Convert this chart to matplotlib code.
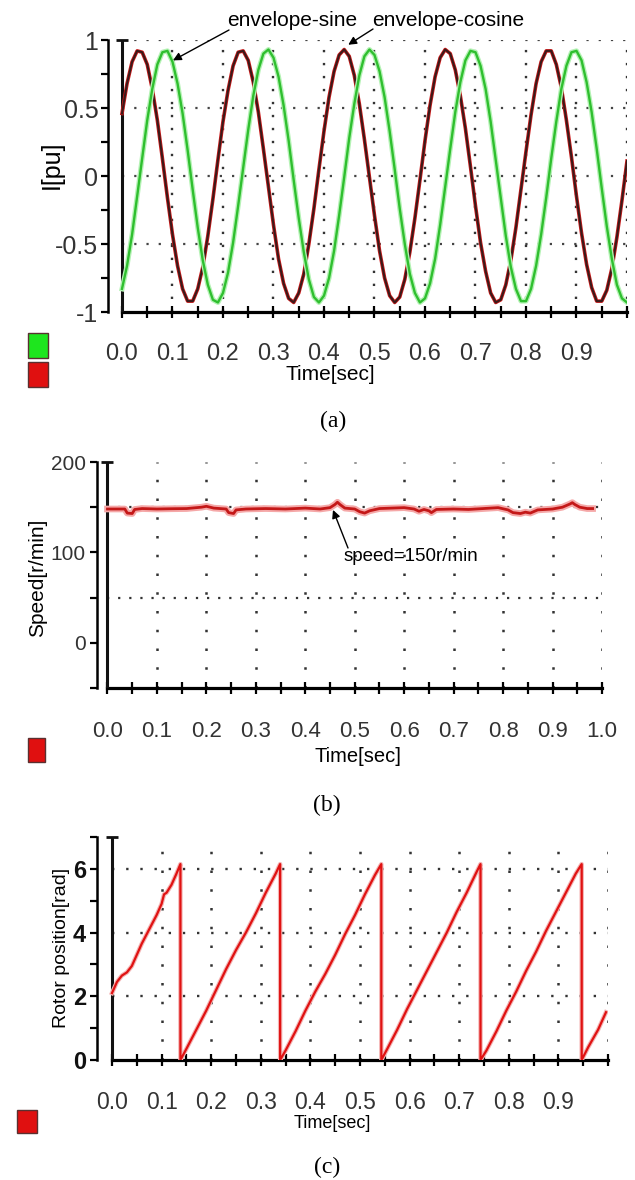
import matplotlib
matplotlib.use("Agg")
import matplotlib.pyplot as plt
import numpy as np
from matplotlib.patches import Rectangle

# ---------------- data ----------------
# (a) stator current envelopes, sampled every 0.01 s
t_a = np.linspace(0.0, 1.0, 101)
i_cosine = [0.46, 0.68, 0.84, 0.92, 0.91, 0.82, 0.64, 0.41, 0.13, -0.16,
            -0.43, -0.66, -0.83, -0.92, -0.92, -0.83, -0.67, -0.44, -0.17, 0.12,
            0.40, 0.63, 0.81, 0.91, 0.92, 0.85, 0.69, 0.47, 0.20, -0.08,
            -0.36, -0.61, -0.79, -0.90, -0.93, -0.86, -0.72, -0.50, -0.24, 0.05,
            0.33, 0.58, 0.77, 0.89, 0.93, 0.88, 0.74, 0.53, 0.27, -0.01,
            -0.29, -0.55, -0.75, -0.88, -0.93, -0.89, -0.76, -0.56, -0.31, -0.03,
            0.26, 0.52, 0.73, 0.87, 0.93, 0.90, 0.78, 0.59, 0.35, 0.07,
            -0.22, -0.49, -0.70, -0.86, -0.93, -0.91, -0.80, -0.62, -0.38, -0.10,
            0.18, 0.45, 0.68, 0.84, 0.92, 0.92, 0.82, 0.65, 0.41, 0.14,
            -0.15, -0.42, -0.65, -0.82, -0.92, -0.92, -0.84, -0.68, -0.45, -0.18,
            0.11]
i_sine = [-0.83, -0.66, -0.43, -0.15, 0.13, 0.41, 0.64, 0.82, 0.91, 0.92,
          0.84, 0.68, 0.46, 0.19, -0.10, -0.38, -0.62, -0.80, -0.91, -0.93,
          -0.86, -0.71, -0.49, -0.22, 0.06, 0.34, 0.59, 0.78, 0.90, 0.93,
          0.87, 0.73, 0.52, 0.26, -0.03, -0.31, -0.56, -0.76, -0.89, -0.93,
          -0.88, -0.75, -0.55, -0.29, -0.01, 0.28, 0.53, 0.74, 0.88, 0.93,
          0.89, 0.77, 0.58, 0.33, 0.05, -0.24, -0.50, -0.72, -0.86, -0.93,
          -0.90, -0.79, -0.61, -0.36, -0.08, 0.20, 0.47, 0.69, 0.85, 0.92,
          0.91, 0.81, 0.64, 0.40, 0.12, -0.16, -0.44, -0.67, -0.83, -0.92,
          -0.92, -0.83, -0.66, -0.43, -0.16, 0.13, 0.40, 0.64, 0.81, 0.91,
          0.92, 0.85, 0.69, 0.47, 0.20, -0.09, -0.37, -0.61, -0.80, -0.90,
          -0.93]

# (b) rotor speed
t_b = [0.0, 0.035, 0.04, 0.05, 0.055, 0.07, 0.10, 0.13, 0.16, 0.19, 0.20, 0.215,
       0.24, 0.245, 0.255, 0.26, 0.28, 0.32, 0.36, 0.40, 0.43, 0.45, 0.46, 0.465,
       0.47, 0.48, 0.50, 0.51, 0.52, 0.53, 0.55, 0.60, 0.62, 0.63, 0.64, 0.65,
       0.655, 0.665, 0.70, 0.73, 0.76, 0.79, 0.81, 0.82, 0.835, 0.845, 0.855,
       0.87, 0.90, 0.92, 0.935, 0.94, 0.945, 0.955, 0.97, 0.981]
speed_b = [148.0, 148.0, 143.5, 143.0, 147.5, 148.5, 148.0, 148.3, 148.5, 150.0,
           151.0, 149.0, 148.0, 144.0, 143.0, 147.0, 148.0, 148.5, 148.0, 149.0,
           148.0, 149.5, 153.0, 155.5, 153.0, 149.0, 148.0, 145.0, 143.5, 146.0,
           148.5, 149.5, 148.0, 145.5, 147.5, 146.0, 144.0, 147.5, 148.0, 147.5,
           148.5, 149.5, 147.0, 144.0, 143.0, 144.5, 143.5, 147.0, 148.0, 150.0,
           153.5, 155.0, 153.0, 150.0, 148.5, 148.5]

# (c) rotor position
t_c = [0.0, 0.01, 0.02, 0.03, 0.04, 0.05, 0.06, 0.07, 0.08, 0.09, 0.10, 0.105,
       0.11, 0.12, 0.13, 0.138,
       0.138, 0.15, 0.17, 0.19, 0.21, 0.23, 0.25, 0.27, 0.29, 0.31, 0.33, 0.339,
       0.339, 0.35, 0.37, 0.39, 0.41, 0.43, 0.45, 0.47, 0.49, 0.51, 0.53, 0.543,
       0.543, 0.555, 0.575, 0.595, 0.615, 0.635, 0.655, 0.675, 0.695, 0.715, 0.735, 0.743,
       0.743, 0.755, 0.775, 0.795, 0.815, 0.835, 0.855, 0.875, 0.895, 0.915, 0.935, 0.947,
       0.947, 0.96, 0.98, 0.996]
pos_c = [2.1, 2.45, 2.65, 2.75, 2.95, 3.3, 3.65, 3.95, 4.25, 4.55, 4.9, 5.2,
         5.25, 5.5, 5.85, 6.15,
         0.0, 0.35, 0.95, 1.55, 2.2, 2.85, 3.45, 4.0, 4.6, 5.25, 5.85, 6.15,
         0.0, 0.3, 0.9, 1.55, 2.15, 2.7, 3.3, 3.95, 4.55, 5.2, 5.8, 6.15,
         0.0, 0.35, 0.95, 1.6, 2.2, 2.8, 3.4, 4.0, 4.65, 5.25, 5.9, 6.15,
         0.0, 0.3, 0.9, 1.55, 2.15, 2.8, 3.4, 4.05, 4.65, 5.25, 5.85, 6.15,
         0.0, 0.4, 0.95, 1.5]

# tick labels
xt_a = [0.0, 0.1, 0.2, 0.3, 0.4, 0.5, 0.6, 0.7, 0.8, 0.9]
xl_a = ['0.0', '0.1', '0.2', '0.3', '0.4', '0.5', '0.6', '0.7', '0.8', '0.9']
xt_b = [0.0, 0.1, 0.2, 0.3, 0.4, 0.5, 0.6, 0.7, 0.8, 0.9, 1.0]
xl_b = ['0.0', '0.1', '0.2', '0.3', '0.4', '0.5', '0.6', '0.7', '0.8', '0.9', '1.0']
yt_a = [-1, -0.5, 0, 0.5, 1]
yl_a = ['-1', '-0.5', '0', '0.5', '1']
yt_b = [0, 100, 200]
yl_b = ['0', '100', '200']
yt_c = [0, 2, 4, 6]
yl_c = ['0', '2', '4', '6']

# ---------------- figure ----------------
W, H = 635, 1180
fig = plt.figure(figsize=(W / 100, H / 100), dpi=100)
fig.patch.set_facecolor('white')
plt.rcParams['font.family'] = ['Liberation Sans', 'DejaVu Sans']
SANS = ['Liberation Sans', 'DejaVu Sans']
SERIF = ['Liberation Serif', 'DejaVu Serif']
DOT = (0, (1, 4.5))


def fxy(px, py):
    return px / W, 1 - py / H


def make_axes(l, r, t, b):
    return fig.add_axes([l / W, 1 - b / H, (r - l) / W, (b - t) / H])


def style(ax, xlim, ylim, xt, xl, yt, yl, ymin, xfs, yfs, ycol, yweight, xpad, ypad):
    ax.set_xlim(*xlim)
    ax.set_ylim(*ylim)
    ax.patch.set_alpha(0)
    for s in ('top', 'right'):
        ax.spines[s].set_visible(False)
    ax.spines['left'].set_linewidth(1.8)
    ax.spines['bottom'].set_linewidth(2.3)
    ax.spines['bottom'].set_bounds(0, 1.0)
    ax.set_xticks(xt)
    ax.set_xticklabels(xl, fontsize=xfs, family=SANS, color='#333333')
    ax.set_xticks(np.arange(0, 1.0001, 0.05), minor=True)
    ax.set_yticks(yt)
    ax.set_yticklabels(yl, fontsize=yfs, family=SANS, color=ycol, fontweight=yweight)
    ax.set_yticks(ymin, minor=True)
    ax.tick_params(axis='x', which='both', direction='inout', length=9, width=1.6, pad=xpad)
    ax.tick_params(axis='y', which='both', direction='out', length=5, width=1.6, pad=ypad)
    # thick t = 0 line with a cap
    ax.axvline(0, color='#111111', lw=2.2, zorder=3)
    ax.plot([0], [ylim[1]], marker='_', ms=9, mew=2, color='#111111', clip_on=False, zorder=3)


def legend_box(x, y, w, h, color):
    fig.add_artist(Rectangle(fxy(x, y + h), w / W, h / H, transform=fig.transFigure,
                             facecolor=color, edgecolor='#5a3030', lw=1.0))


arrow = dict(arrowstyle='-|>', color='black', lw=1.0, mutation_scale=12, shrinkA=0, shrinkB=0)

# ---------------- (a) ----------------
ax1 = make_axes(108, 627, 40, 312)
style(ax1, (-0.0277, 1.0), (-1, 1), xt_a, xl_a, yt_a, yl_a,
      [-0.75, -0.25, 0.25, 0.75], 17, 18, '#333333', 'normal', 18, 2)
ax1.hlines([1.0, 0.5, 0.0, -0.5], 0, 1.0, colors='#444444', linestyles=[DOT], lw=1.6, zorder=1)
ax1.vlines(np.arange(0.1, 1.0001, 0.1), -1, 1, colors='#333333', linestyles=[DOT], lw=1.7, zorder=1)
ax1.plot(t_a, i_cosine, color='#cc1a1a', lw=2.6, zorder=4, solid_joinstyle='round')
ax1.plot(t_a, i_cosine, color='#3a1a1a', lw=1.5, zorder=4, solid_joinstyle='round')
ax1.plot(t_a, i_sine, color='#b4f2b4', lw=3.6, zorder=5, solid_joinstyle='round')
ax1.plot(t_a, i_sine, color='#2fbf2f', lw=1.7, zorder=5, solid_joinstyle='round')

ax1.annotate('', xy=(0.101, 0.85), xycoords='data', xytext=fxy(229, 30),
             textcoords='figure fraction', arrowprops=arrow, zorder=6)
ax1.annotate('', xy=(0.448, 0.965), xycoords='data', xytext=fxy(373, 29),
             textcoords='figure fraction', arrowprops=arrow, zorder=6)
fig.text(*fxy(292, 21), 'envelope-sine', ha='center', va='center', fontsize=15)
fig.text(*fxy(448, 21), 'envelope-cosine', ha='center', va='center', fontsize=15)
fig.text(*fxy(52, 165), 'I[pu]', ha='center', va='center', rotation=90, fontsize=18)
fig.text(*fxy(330, 375), 'Time[sec]', ha='center', va='center', fontsize=15)
fig.text(*fxy(333, 421), '(a)', ha='center', va='center', fontsize=17, family=SERIF)
legend_box(28, 333, 20, 25, '#1ee61e')
legend_box(28, 362, 20, 25, '#e01010')

# ---------------- (b) ----------------
ax2 = make_axes(97, 602, 462, 688)
style(ax2, (-0.0212, 1.0), (-50, 200), xt_b, xl_b, yt_b, yl_b,
      [-50, 50, 150], 16, 15, '#333333', 'normal', 19, 3)
ax2.hlines([50, 150], 0, 1.0, colors='#333333', linestyles=[(0, (1, 4))], lw=1.6, zorder=1)
ax2.vlines(np.arange(0.1, 1.0001, 0.1), -50, 200, colors='#333333',
           linestyles=[(0, (1, 6.5))], lw=1.8, zorder=1)
ax2.plot(t_b, speed_b, color='#f5a8a8', lw=4.8, zorder=4, solid_joinstyle='round')
ax2.plot(t_b, speed_b, color='#c41818', lw=2.0, zorder=4, solid_joinstyle='round')
ax2.annotate('', xy=(0.456, 147), xycoords='data', xytext=fxy(348, 548),
             textcoords='figure fraction', arrowprops=arrow, zorder=6)
fig.text(*fxy(411, 557), 'speed=150r/min', ha='center', va='center', fontsize=13.5)
fig.text(*fxy(38, 578), 'Speed[r/min]', ha='center', va='center', rotation=90, fontsize=15)
fig.text(*fxy(358, 757), 'Time[sec]', ha='center', va='center', fontsize=14.5)
fig.text(*fxy(327, 805), '(b)', ha='center', va='center', fontsize=17, family=SERIF)
legend_box(28, 738, 17, 24, '#e01010')

# ---------------- (c) ----------------
ax3 = make_axes(97, 608, 837, 1060)
style(ax3, (-0.0302, 1.0), (0, 7), xt_a, xl_a, yt_c, yl_c,
      [1, 3, 5, 7], 16.5, 17, '#111111', 'bold', 18, 3)
ax3.hlines([2, 4, 6], 0, 1.0, colors='#333333', linestyles=[(0, (1, 5))], lw=1.7, zorder=1)
ax3.vlines(np.arange(0.1, 1.0001, 0.1), 0, 7, colors='#333333',
           linestyles=[(0, (1, 6.5))], lw=1.8, zorder=1)
ax3.plot(t_c, pos_c, color='#f4b4b4', lw=3.2, zorder=4)
ax3.plot(t_c, pos_c, color='#e01212', lw=1.6, zorder=4)
fig.text(*fxy(62, 948), 'Rotor position[rad]', ha='center', va='center', rotation=90, fontsize=14)
fig.text(*fxy(332, 1124), 'Time[sec]', ha='center', va='center', fontsize=13)
fig.text(*fxy(327, 1167), '(c)', ha='center', va='center', fontsize=17, family=SERIF)
legend_box(17, 1110, 20, 23, '#e01010')

fig.savefig('out.png', dpi=100, facecolor='white')
